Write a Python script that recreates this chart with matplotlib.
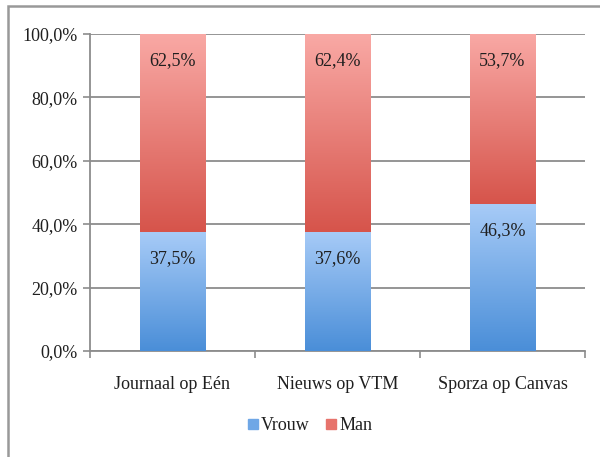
import numpy as np
import matplotlib
matplotlib.use("Agg")
import matplotlib.pyplot as plt
from matplotlib.patches import Rectangle
from matplotlib.colors import LinearSegmentedColormap

# data
zenders = ["Journaal op Eén", "Nieuws op VTM", "Sporza op Canvas"]
vrouw = [37.5, 37.6, 46.3]
man = [62.5, 62.4, 53.7]
vrouw_labels = ["37,5%", "37,6%", "46,3%"]
man_labels = ["62,5%", "62,4%", "53,7%"]
y_ticks = [0, 20, 40, 60, 80, 100]

plt.rcParams['font.family'] = ['Liberation Serif', 'DejaVu Serif']
fs = 13
tekst = "#1f1f1f"

blauw = LinearSegmentedColormap.from_list("b", ["#4a8ed8", "#a7cbf7"])
rood = LinearSegmentedColormap.from_list("r", ["#d6544b", "#f9a9a5"])

fig = plt.figure(figsize=(6, 4.57), dpi=100)
ax = fig.add_axes([0.15, 0.232, 0.825, 0.694])

x = np.arange(len(zenders))
b1 = ax.bar(x, vrouw, width=0.4, color="none", edgecolor="none")
b2 = ax.bar(x, man, width=0.4, bottom=vrouw, color="none", edgecolor="none")

grad = np.linspace(0, 1, 256).reshape(-1, 1)
for bars, cmap in [(b1, blauw), (b2, rood)]:
    for p in bars:
        x0, y0 = p.get_x(), p.get_y()
        w, h = p.get_width(), p.get_height()
        im = ax.imshow(grad, cmap=cmap, origin="lower", aspect="auto",
                       extent=[x0, x0 + w, y0, y0 + h], zorder=3)
        im.set_clip_path(p)

# labels in de balken
for i in range(len(zenders)):
    ax.annotate(vrouw_labels[i], (x[i], vrouw[i]), xytext=(0, -19),
                textcoords="offset points", ha="center", va="center",
                fontsize=fs, color=tekst, zorder=5)
    ax.annotate(man_labels[i], (x[i], 100), xytext=(0, -19),
                textcoords="offset points", ha="center", va="center",
                fontsize=fs, color=tekst, zorder=5)

ax.set_xlim(-0.5, 2.5)
ax.set_ylim(0, 100)
ax.set_yticks(y_ticks)
ax.set_yticklabels([f"{v:.1f}%".replace(".", ",") for v in y_ticks], fontsize=fs, color=tekst)
ax.set_xticks(x)
ax.set_xticklabels(zenders, fontsize=fs, color=tekst)
ax.set_xticks([-0.5, 0.5, 1.5, 2.5], minor=True)
ax.tick_params(axis="x", which="major", length=0, pad=18)
ax.tick_params(axis="x", which="minor", length=5, color="#8c8c8c", width=1.2)
ax.tick_params(axis="y", length=5, color="#8c8c8c", width=1.2, pad=4)

ax.yaxis.grid(True, color="#8c8c8c", linewidth=1.3)
ax.set_axisbelow(True)
for s in ["top", "right"]:
    ax.spines[s].set_visible(False)
for s in ["left", "bottom"]:
    ax.spines[s].set_color("#8c8c8c")
    ax.spines[s].set_linewidth(1.3)

# legenda
handles = [Rectangle((0, 0), 1, 1, color="#6fa7e6"), Rectangle((0, 0), 1, 1, color="#e7736c")]
leg = fig.legend(handles, ["Vrouw", "Man"], loc="center", bbox_to_anchor=(0.517, 0.068),
                 ncol=2, frameon=False, fontsize=fs, handlelength=0.55, handleheight=0.55,
                 handletextpad=0.2, columnspacing=0.9)
for t in leg.get_texts():
    t.set_color(tekst)

# kader rond de grafiek
fig.patches.append(Rectangle((8 / 600, -0.1), 1.0, 1.1 - 6 / 457, transform=fig.transFigure,
                             fill=False, edgecolor="#999999", linewidth=1.8))

fig.savefig("out.png", dpi=100)
